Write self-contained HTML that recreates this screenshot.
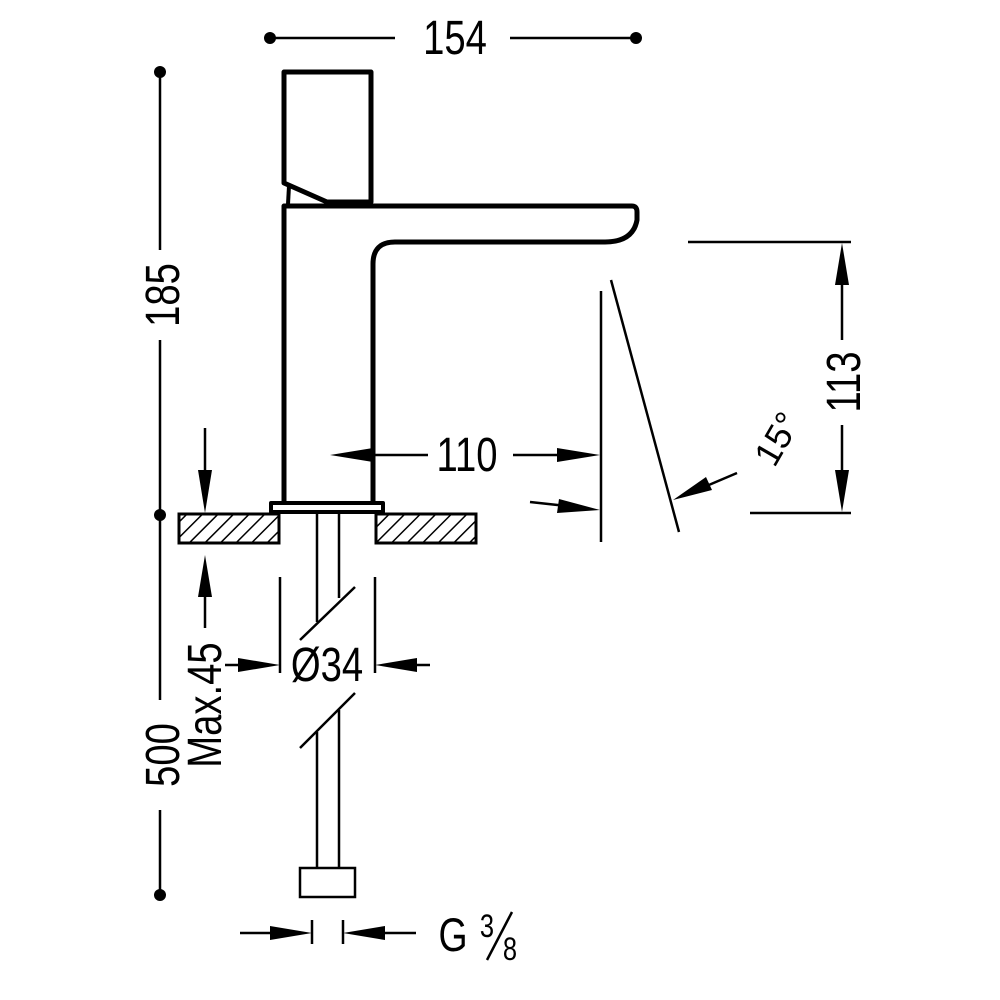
<!DOCTYPE html>
<html><head><style>body{margin:0;background:#fff}svg{display:block}</style></head><body>
<svg width="1000" height="1000" viewBox="0 0 1000 1000" xmlns="http://www.w3.org/2000/svg">
<defs>
<pattern id="h" patternUnits="userSpaceOnUse" width="11" height="11" patternTransform="rotate(45)">
<line x1="0" y1="0" x2="0" y2="11" stroke="#000" stroke-width="3"/></pattern>
</defs>
<g fill="none" stroke="#000" stroke-width="5" stroke-linejoin="round">
<path d="M284,183 L284,72 L371,72 L371,202 L327,202 Z"/>
<line x1="289" y1="186" x2="288" y2="204" stroke-width="4"/>
<path d="M284,503 L284,206 L632,206 Q637,206 637,212 L637,220 Q633,242 605,242 L395,242 Q373,242 373,264 L373,503"/>
<rect x="271" y="503" width="112" height="9" stroke-width="4"/>
</g>
<g stroke="#000" stroke-width="3">
<rect x="179" y="514" width="100" height="29" fill="url(#h)"/>
<rect x="376" y="514" width="100" height="29" fill="url(#h)"/>
</g>
<g stroke="#000" stroke-width="2.5" fill="none">
<line x1="317" y1="513" x2="317" y2="622"/><line x1="339" y1="513" x2="339" y2="598"/>
<line x1="300" y1="640" x2="355" y2="587"/><line x1="300" y1="748" x2="355" y2="693"/>
<line x1="317" y1="732" x2="317" y2="868"/><line x1="339" y1="710" x2="339" y2="868"/>
<rect x="300" y="868" width="55" height="29"/>
<line x1="280" y1="577" x2="280" y2="673"/><line x1="375" y1="577" x2="375" y2="673"/>
<line x1="225" y1="665" x2="270" y2="665"/><line x1="385" y1="665" x2="430" y2="665"/>
<line x1="312" y1="920" x2="312" y2="944"/><line x1="343" y1="920" x2="343" y2="944"/>
<line x1="240" y1="933" x2="290" y2="933"/><line x1="365" y1="933" x2="416" y2="933"/>
<line x1="205" y1="428" x2="205" y2="490"/><line x1="205" y1="580" x2="205" y2="628"/>
<line x1="160" y1="72" x2="160" y2="250"/><line x1="160" y1="340" x2="160" y2="700"/>
<line x1="160" y1="810" x2="160" y2="895"/>
<line x1="270" y1="38" x2="395" y2="38"/><line x1="510" y1="38" x2="636" y2="38"/>
<line x1="350" y1="455" x2="428" y2="455"/><line x1="513" y1="455" x2="580" y2="455"/>
<line x1="601" y1="291" x2="601" y2="542"/>
<line x1="611" y1="280" x2="679" y2="532"/>
<line x1="530" y1="502" x2="585" y2="508"/>
<line x1="737" y1="473" x2="690" y2="493"/>
<line x1="688" y1="242" x2="851" y2="242"/><line x1="750" y1="513" x2="851" y2="513"/>
<line x1="842" y1="260" x2="842" y2="340"/><line x1="842" y1="425" x2="842" y2="495"/>
</g>
<g fill="#000">
<circle cx="160" cy="72" r="6"/><circle cx="160" cy="515" r="6"/><circle cx="160" cy="895" r="6"/>
<circle cx="270" cy="38" r="6"/><circle cx="636" cy="38" r="6"/>
<polygon points="280,665 238,658 238,672"/><polygon points="375,665 417,658 417,672"/>
<polygon points="312,933 270,926 270,940"/><polygon points="343,933 385,926 385,940"/>
<polygon points="205,513 198,470 212,470"/><polygon points="205,555 198,597 212,597"/>
<polygon points="330,455 373,448 373,462"/><polygon points="600,455 557,448 557,462"/>
<polygon points="600,510 559,499 557,513"/>
<polygon points="673,500 706,477 712,490"/>
<polygon points="842,243 835,285 849,285"/><polygon points="842,512 835,470 849,470"/>
</g>
<g font-family="Liberation Sans, sans-serif" fill="#000" text-anchor="middle" font-size="45">
<text transform="translate(455,54) scale(0.85,1.08)">154</text>
<text transform="translate(467,471) scale(0.85,1.08)">110</text>
<text transform="translate(327,681) scale(0.85,1.08)">Ø34</text>
<text transform="translate(179,295) rotate(-90) scale(0.85,1.08)">185</text>
<text transform="translate(179,755) rotate(-90) scale(0.85,1.08)">500</text>
<text transform="translate(221,705) rotate(-90) scale(0.85,1.08)">Max.45</text>
<text transform="translate(860,382) rotate(-90) scale(0.85,1.08)">113</text>
<text transform="translate(788,445) rotate(-60)" font-size="36">15°</text>
<text transform="translate(453,951) scale(0.85,1.08)" font-size="44">G</text>
<text transform="translate(487,937) scale(0.85,1.08)" font-size="30">3</text>
<text transform="translate(510,960) scale(0.85,1.08)" font-size="30">8</text>
</g>
<line x1="487" y1="960" x2="512" y2="912" stroke="#000" stroke-width="2.5"/>
</svg>
</body></html>
